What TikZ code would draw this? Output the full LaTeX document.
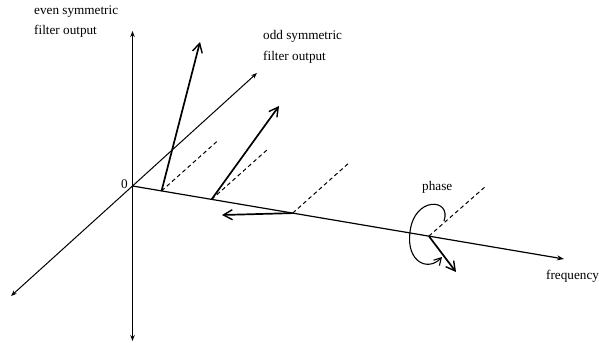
\documentclass[tikz,border=0pt]{standalone}
\usepackage{fontspec}
\setmainfont{Liberation Serif}
\usetikzlibrary{arrows.meta,calc}
\begin{document}
\begin{tikzpicture}[x=1pt,y=-1pt,
  axis/.style={line width=1pt,-{Stealth[length=6pt,width=4.5pt]}},
  vec/.style={line width=1.7pt,-{Straight Barb[length=9pt,width=10pt,line width=1.4pt]}},
  proj/.style={line width=1pt,dash pattern=on 4pt off 3pt},
  lbl/.style={font=\fontsize{13.2}{20}\selectfont,inner sep=0pt,align=left}]
\useasboundingbox (0,0) rectangle (599,345);
% axes
\coordinate (O) at (132.5,186);
\coordinate (Etop) at (132.5,31);
\coordinate (Ebot) at (132.5,341);
\coordinate (Dup) at (257,73);
\coordinate (Ddn) at (11,296);
\coordinate (F) at (564,259);
\draw[axis] (O) -- (Etop);
\draw[axis] (O) -- (Ebot);
\draw[axis] (O) -- (Dup);
\draw[axis] (O) -- (Ddn);
\draw[line width=1.2pt,-{Stealth[length=7pt,width=5pt]}] (O) -- (F);
% points on the frequency axis
\coordinate (P1) at ($(O)!0.0673!(F)$);
\coordinate (P2) at ($(O)!0.1833!(F)$);
\coordinate (P3) at ($(O)!0.3713!(F)$);
\coordinate (P4) at ($(O)!0.6868!(F)$);
% projections
\coordinate (Q1) at ($(P1)+(56,-50)$);
\coordinate (Q2) at ($(P2)+(56,-50)$);
\coordinate (Q3) at ($(P3)+(56,-50)$);
\coordinate (Q4) at ($(P4)+(57,-50)$);
\draw[proj] (P1) -- (Q1);
\draw[proj] (P2) -- (Q2);
\draw[proj] (P3) -- (Q3);
\draw[proj] (P4) -- (Q4);
% vectors
\coordinate (V1) at (200,42);
\coordinate (V2) at (279,106);
\coordinate (V3) at (222,215);
\coordinate (V4) at (456,272);
\draw[vec] (P1) -- (V1);
\draw[vec] (P2) -- (V2);
\draw[vec] (P3) -- (V3);
\draw[vec] (P4) -- (V4);
% phase curl
\coordinate (C0) at (444,221);
\coordinate (C1) at (442,257);
\draw[line width=1.1pt,-{Straight Barb[length=7pt,width=8pt,line width=1.1pt]}]
  (C0) .. controls (452,198) and (414,196) .. (410,232)
       .. controls (406,262) and (428,272) .. (C1);
% labels
\node[lbl,anchor=base west] (Lev1) at (34,15) {even symmetric};
\node[lbl,anchor=base west] (Lev2) at (34,35) {filter output};
\node[lbl,anchor=base west] (Lod1) at (263,40) {odd symmetric};
\node[lbl,anchor=base west] (Lod2) at (263,60) {filter output};
\node[lbl,anchor=base west] (Lz) at (121,188) {0};
\node[lbl,anchor=base west] (Lph) at (422,190) {phase};
\node[lbl,anchor=base west] (Lfr) at (546,279) {frequency};
\end{tikzpicture}
\end{document}
